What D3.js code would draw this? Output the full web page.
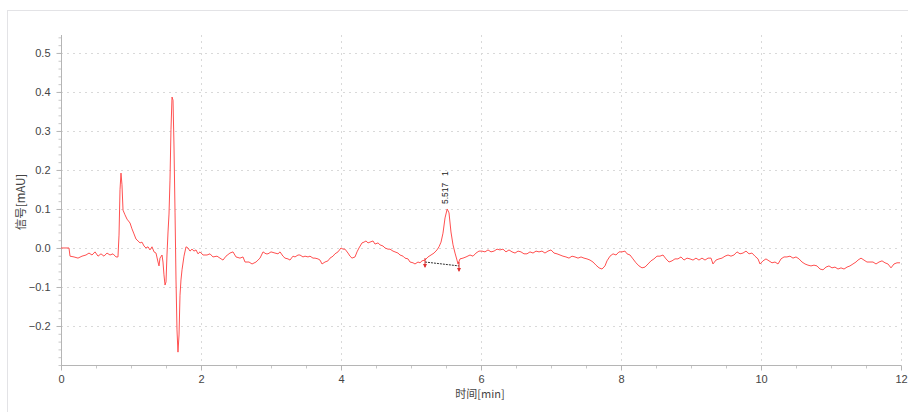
<!DOCTYPE html>
<html>
<head>
<meta charset="utf-8">
<script src="https://cdn.jsdelivr.net/npm/d3@7"></script>
<style>
  html, body { margin: 0; padding: 0; background: #fff; }
  svg { display: block; font-family: "Liberation Sans", Arial, sans-serif; }
</style>
</head>
<body>
<svg id="chart" width="908" height="412"></svg>
<script>
// Chromatogram trace: retention time (min) and detector signal (mAU)
const timeMin = [
  0, 0.114, 0.129, 0.186, 0.243, 0.300, 0.357, 0.400, 0.443, 0.486, 0.529, 0.571, 0.614, 0.657, 0.700, 0.743, 0.786, 0.814,
  0.829, 0.843, 0.857, 0.871, 0.886, 0.914, 0.943, 0.986, 1.014, 1.043, 1.071, 1.100, 1.129, 1.157, 1.186, 1.214, 1.243,
  1.271, 1.300, 1.329, 1.357, 1.386, 1.400, 1.414, 1.443, 1.457, 1.471, 1.486, 1.500, 1.514, 1.529, 1.543, 1.557, 1.571,
  1.586, 1.600, 1.614, 1.629, 1.643, 1.657, 1.671, 1.686, 1.700, 1.714, 1.729, 1.757, 1.786, 1.814, 1.843, 1.871, 1.900,
  1.929, 1.957, 1.986, 2.029, 2.086, 2.129, 2.171, 2.229, 2.271, 2.314, 2.357, 2.414, 2.457, 2.500, 2.557, 2.600, 2.629,
  2.686, 2.729, 2.786, 2.843, 2.886, 2.929, 2.957, 3.000, 3.057, 3.100, 3.129, 3.171, 3.200, 3.243, 3.271, 3.314, 3.343,
  3.386, 3.414, 3.457, 3.486, 3.529, 3.557, 3.600, 3.629, 3.671, 3.700, 3.729, 3.771, 3.814, 3.843, 3.886, 3.914, 3.957,
  4.000, 4.029, 4.057, 4.100, 4.129, 4.157, 4.200, 4.229, 4.257, 4.300, 4.329, 4.357, 4.386, 4.414, 4.457, 4.486, 4.529,
  4.557, 4.600, 4.629, 4.671, 4.700, 4.743, 4.771, 4.814, 4.843, 4.886, 4.914, 4.957, 4.986, 5.029, 5.057, 5.100, 5.129,
  5.157, 5.200, 5.243, 5.286, 5.329, 5.371, 5.400, 5.429, 5.457, 5.486, 5.517, 5.543, 5.571, 5.600, 5.629, 5.657, 5.671,
  5.700, 5.743, 5.786, 5.843, 5.886, 5.929, 5.971, 6.014, 6.057, 6.100, 6.143, 6.186, 6.229, 6.271, 6.314, 6.357, 6.400,
  6.443, 6.486, 6.529, 6.571, 6.614, 6.657, 6.700, 6.743, 6.786, 6.829, 6.871, 6.914, 6.957, 7.000, 7.043, 7.086, 7.129,
  7.171, 7.214, 7.257, 7.300, 7.343, 7.386, 7.429, 7.471, 7.514, 7.557, 7.600, 7.643, 7.686, 7.729, 7.771, 7.800, 7.843,
  7.886, 7.929, 7.971, 8.014, 8.057, 8.086, 8.129, 8.171, 8.214, 8.257, 8.300, 8.343, 8.386, 8.429, 8.471, 8.514, 8.557,
  8.600, 8.643, 8.686, 8.729, 8.771, 8.814, 8.857, 8.900, 8.943, 8.986, 9.029, 9.071, 9.114, 9.157, 9.200, 9.243, 9.286,
  9.314, 9.357, 9.400, 9.443, 9.486, 9.529, 9.571, 9.614, 9.657, 9.700, 9.743, 9.786, 9.829, 9.871, 9.914, 9.957, 9.986,
  10.029, 10.071, 10.114, 10.157, 10.200, 10.243, 10.286, 10.329, 10.371, 10.414, 10.457, 10.500, 10.543, 10.586, 10.629,
  10.671, 10.714, 10.757, 10.800, 10.843, 10.886, 10.929, 10.971, 11.014, 11.057, 11.100, 11.143, 11.186, 11.229, 11.271,
  11.314, 11.357, 11.386, 11.429, 11.471, 11.514, 11.557, 11.600, 11.643, 11.686, 11.729, 11.771, 11.814, 11.857, 11.900,
  11.943, 11.986
];
const signalMAU = [
  0, 0, -0.021, -0.023, -0.026, -0.021, -0.018, -0.013, -0.018, -0.010, -0.021, -0.015, -0.021, -0.013, -0.018, -0.015, -0.023, -0.023,
  0.033, 0.149, 0.192, 0.162, 0.097, 0.085, 0.074, 0.064, 0.049, 0.036, 0.023, 0.018, 0.013, 0.015, 0.005, 0.000, 0.003,
  -0.005, 0.003, -0.010, -0.013, -0.036, -0.046, -0.026, -0.018, -0.036, -0.069, -0.095, -0.087, -0.018, 0.041, 0.087, 0.174, 0.303,
  0.387, 0.379, 0.264, 0.092, -0.082, -0.210, -0.267, -0.223, -0.121, -0.082, -0.056, -0.021, 0.003, 0.000, -0.008, -0.003, -0.008,
  -0.005, -0.015, -0.010, -0.018, -0.018, -0.015, -0.023, -0.021, -0.026, -0.031, -0.021, -0.013, -0.010, -0.023, -0.026, -0.023, -0.036,
  -0.036, -0.041, -0.036, -0.026, -0.010, -0.015, -0.015, -0.010, -0.013, -0.015, -0.010, -0.021, -0.026, -0.028, -0.031, -0.021, -0.023,
  -0.018, -0.018, -0.023, -0.021, -0.023, -0.021, -0.026, -0.026, -0.028, -0.031, -0.041, -0.036, -0.033, -0.026, -0.021, -0.015, -0.010,
  0.000, -0.003, -0.003, -0.013, -0.021, -0.026, -0.023, -0.010, 0.000, 0.013, 0.015, 0.018, 0.013, 0.015, 0.018, 0.010, 0.013,
  0.008, 0.005, 0.000, -0.003, -0.003, -0.008, -0.010, -0.013, -0.018, -0.021, -0.026, -0.028, -0.036, -0.038, -0.041, -0.036, -0.038,
  -0.033, -0.031, -0.023, -0.018, -0.013, -0.005, 0.003, 0.015, 0.038, 0.077, 0.100, 0.090, 0.041, 0.008, -0.013, -0.031, -0.041,
  -0.028, -0.026, -0.023, -0.018, -0.021, -0.013, -0.008, -0.008, -0.010, -0.005, -0.010, -0.008, -0.003, -0.005, -0.003, -0.010, -0.005,
  -0.010, -0.013, -0.008, -0.010, -0.015, -0.015, -0.010, -0.013, -0.008, -0.010, -0.008, -0.013, -0.008, -0.005, -0.013, -0.015, -0.018,
  -0.021, -0.023, -0.026, -0.021, -0.023, -0.026, -0.023, -0.026, -0.028, -0.031, -0.036, -0.044, -0.051, -0.054, -0.046, -0.033, -0.021,
  -0.015, -0.018, -0.010, -0.010, -0.008, -0.015, -0.018, -0.028, -0.038, -0.046, -0.051, -0.049, -0.041, -0.033, -0.028, -0.021, -0.021,
  -0.018, -0.028, -0.036, -0.033, -0.028, -0.028, -0.023, -0.031, -0.026, -0.028, -0.031, -0.026, -0.031, -0.026, -0.031, -0.026, -0.026,
  -0.041, -0.031, -0.028, -0.026, -0.021, -0.018, -0.021, -0.018, -0.010, -0.015, -0.013, -0.008, -0.015, -0.013, -0.021, -0.028, -0.041,
  -0.033, -0.028, -0.033, -0.038, -0.036, -0.041, -0.028, -0.023, -0.023, -0.021, -0.026, -0.023, -0.028, -0.036, -0.041,
  -0.044, -0.046, -0.044, -0.046, -0.054, -0.056, -0.049, -0.046, -0.051, -0.049, -0.054, -0.051, -0.054, -0.049, -0.046,
  -0.041, -0.036, -0.031, -0.026, -0.031, -0.036, -0.036, -0.036, -0.041, -0.036, -0.033, -0.038, -0.041, -0.051, -0.041,
  -0.038, -0.038
];

// Integrated peak: retention time, peak number, baseline start/end
const peakTimes = [5.517];
const peakNumbers = ["1"];
const peakHeights = [0.100];
const baselineStart = [5.200, -0.036];
const baselineEnd = [5.686, -0.046];

const xTicks = [0, 2, 4, 6, 8, 10, 12];
const yTicks = [-0.2, -0.1, 0.0, 0.1, 0.2, 0.3, 0.4, 0.5];
const xLabel = "时间[min]";
const yLabel = "信号[mAU]";

const svg = d3.select("#chart");
const W = 908, H = 412;
const plotLeft = 61, plotRight = 901, plotTop = 35, plotBottom = 365;

// outer panel frame
svg.append("rect")
  .attr("x", 7.5).attr("y", 10.5)
  .attr("width", W - 7).attr("height", H - 9)
  .attr("fill", "#fff").attr("stroke", "#e3e3e6");

const x = d3.scaleLinear().domain([0, 12]).range([plotLeft, plotRight]);
const y = d3.scaleLinear().domain([-0.3, 0.546]).range([plotBottom, plotTop]);

// dotted grid
const grid = svg.append("g").attr("stroke", "#d9d9d9").attr("stroke-dasharray", "2,4").attr("stroke-width", 1);
grid.selectAll("line.h").data(yTicks).join("line").attr("class", "h")
  .attr("x1", plotLeft).attr("x2", plotRight)
  .attr("y1", d => Math.round(y(d)) + 0.5).attr("y2", d => Math.round(y(d)) + 0.5);
grid.selectAll("line.v").data(xTicks.filter(d => d > 0)).join("line").attr("class", "v")
  .attr("y1", plotTop).attr("y2", plotBottom)
  .attr("x1", d => Math.round(x(d)) + 0.5).attr("x2", d => Math.round(x(d)) + 0.5);

// minor ticks
const yMinor = d3.range(-0.3, 0.5401, 0.02);
const xMinor = d3.range(0, 12.01, 0.5);
svg.append("g").attr("transform", `translate(${plotLeft + 0.5},0)`)
  .call(d3.axisLeft(y).tickValues(yMinor).tickSize(3).tickFormat(""))
  .call(g => g.select(".domain").remove())
  .selectAll("line").attr("stroke", "#c8c8c8");
svg.append("g").attr("transform", `translate(0,${plotBottom + 0.5})`)
  .call(d3.axisBottom(x).tickValues(xMinor).tickSize(3).tickFormat(""))
  .call(g => g.select(".domain").remove())
  .selectAll("line").attr("stroke", "#c8c8c8");

// y axis
const yAxis = svg.append("g").attr("transform", `translate(${plotLeft + 0.5},0)`)
  .call(d3.axisLeft(y).tickValues(yTicks).tickSize(5).tickPadding(6).tickFormat(d3.format(".1f")));
yAxis.select(".domain").attr("stroke", "#b5b5b5").attr("d", `M0,${plotTop}V${plotBottom}`);
yAxis.selectAll(".tick line").attr("stroke", "#b5b5b5");
yAxis.selectAll(".tick text").attr("fill", "#444").attr("font-size", 11)
  .attr("font-family", "'Liberation Sans', Arial, sans-serif");

// x axis
const xAxis = svg.append("g").attr("transform", `translate(0,${plotBottom + 0.5})`)
  .call(d3.axisBottom(x).tickValues(xTicks).tickSize(5).tickPadding(5).tickFormat(d3.format("d")));
xAxis.select(".domain").attr("stroke", "#b5b5b5").attr("d", `M${plotLeft},0H${plotRight}`);
xAxis.selectAll(".tick line").attr("stroke", "#b5b5b5");
xAxis.selectAll(".tick text").attr("fill", "#444").attr("font-size", 11)
  .attr("font-family", "'Liberation Sans', Arial, sans-serif");

// axis titles
svg.append("text")
  .attr("x", 480).attr("y", 398)
  .attr("text-anchor", "middle")
  .attr("font-size", 11).attr("fill", "#444")
  .attr("font-family", "'Noto Sans CJK SC', 'Liberation Sans', sans-serif")
  .text(xLabel);
svg.append("text")
  .attr("transform", `translate(25,202) rotate(-90)`)
  .attr("text-anchor", "middle")
  .attr("font-size", 11.5).attr("fill", "#444")
  .attr("font-family", "'Noto Sans CJK SC', 'Liberation Sans', sans-serif")
  .text(yLabel);

// signal trace
const pts = timeMin.map((t, i) => [t, signalMAU[i]]);
svg.append("path")
  .datum(pts)
  .attr("fill", "none")
  .attr("stroke", "#ff5050")
  .attr("stroke-width", 1)
  .attr("stroke-linejoin", "round")
  .attr("d", d3.line().x(d => x(d[0])).y(d => y(d[1])));

// integration baseline
svg.append("line")
  .attr("x1", x(baselineStart[0])).attr("y1", y(baselineStart[1]))
  .attr("x2", x(baselineEnd[0])).attr("y2", y(baselineEnd[1]))
  .attr("stroke", "#333").attr("stroke-width", 1).attr("stroke-dasharray", "2,1");

// baseline start / end markers
[baselineStart, baselineEnd].forEach(p => {
  const px = x(p[0]), py = y(p[1]);
  svg.append("line")
    .attr("x1", px).attr("x2", px).attr("y1", py - 4).attr("y2", py + 5)
    .attr("stroke", "#e03030").attr("stroke-width", 1);
  svg.append("path")
    .attr("d", `M${px - 2},${py + 2}L${px + 2},${py + 2}L${px},${py + 6}Z`)
    .attr("fill", "#e03030");
});

// peak annotation: retention time and peak number, rotated
peakTimes.forEach((t, i) => {
  const px = x(t) + 1, py = y(peakHeights[i]) - 5;
  svg.append("text")
    .attr("transform", `translate(${px},${py}) rotate(-90)`)
    .attr("font-size", 8.5).attr("fill", "#222")
    .attr("font-family", "'Liberation Sans', Arial, sans-serif")
    .text(d3.format(".3f")(t));
  svg.append("text")
    .attr("transform", `translate(${px},${py - 28}) rotate(-90)`)
    .attr("font-size", 8.5).attr("fill", "#222")
    .attr("font-family", "'Liberation Sans', Arial, sans-serif")
    .text(peakNumbers[i]);
});
</script>
</body>
</html>
